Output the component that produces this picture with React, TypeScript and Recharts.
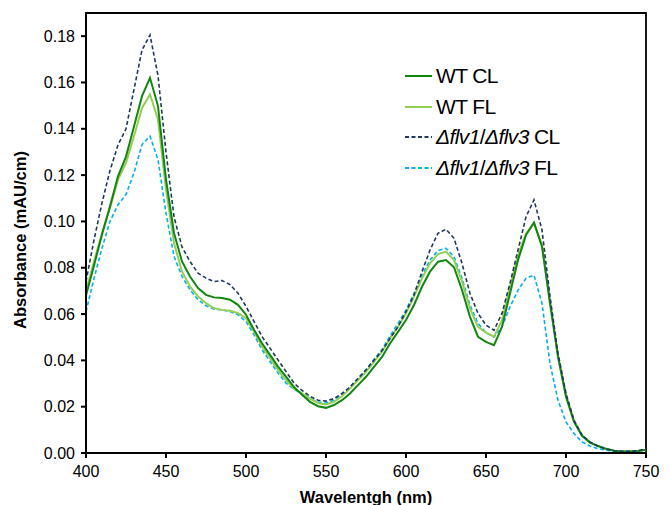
import React from "react";
import { LineChart, Line, XAxis, YAxis, ReferenceArea, Label } from "recharts";

const wavelengths = [400,405,410,415,420,425,430,435,440,445,450,455,460,465,470,475,480,485,490,495,500,505,510,515,520,525,530,535,540,545,550,555,560,565,570,575,580,585,590,595,600,605,610,615,620,625,630,635,640,645,650,655,660,665,670,675,680,685,690,695,700,705,710,715,720,725,730,735,740,745,750];

const wtCL = [0.068,0.081,0.0943,0.1065,0.1195,0.128,0.141,0.1541,0.162,0.1498,0.1181,0.095,0.0827,0.0762,0.0712,0.0683,0.0672,0.0669,0.0662,0.064,0.0597,0.0532,0.0474,0.0424,0.0373,0.033,0.0285,0.0252,0.0221,0.0202,0.0195,0.0207,0.0228,0.0257,0.0293,0.0329,0.0372,0.0415,0.0473,0.0523,0.0574,0.0639,0.0718,0.0783,0.0826,0.0833,0.0802,0.0704,0.0588,0.0502,0.048,0.0466,0.0545,0.0689,0.0833,0.0941,0.0995,0.0891,0.0646,0.0415,0.0243,0.0134,0.0074,0.0045,0.003,0.0018,0.001,0.0007,0.0007,0.0009,0.0014];

const wtFL = [0.07,0.0827,0.095,0.1058,0.1181,0.1253,0.1368,0.149,0.1548,0.144,0.1138,0.0907,0.0784,0.0719,0.0676,0.0647,0.0625,0.0618,0.0614,0.0604,0.0582,0.0525,0.046,0.0409,0.0359,0.0315,0.0278,0.0258,0.0235,0.0216,0.021,0.0221,0.0245,0.0278,0.0314,0.035,0.0394,0.0437,0.0495,0.0545,0.0603,0.0675,0.0754,0.0819,0.0859,0.087,0.0833,0.074,0.0624,0.0545,0.052,0.0502,0.0574,0.0718,0.0855,0.0948,0.0992,0.0898,0.066,0.0422,0.025,0.0141,0.0076,0.0046,0.003,0.0018,0.001,0.0007,0.0007,0.0009,0.0014];

const flvCL = [0.074,0.092,0.108,0.122,0.133,0.14,0.157,0.174,0.1805,0.163,0.13,0.102,0.089,0.0827,0.0777,0.0755,0.074,0.0745,0.0727,0.069,0.0633,0.0568,0.0503,0.0453,0.0402,0.0352,0.0302,0.027,0.0245,0.0228,0.0224,0.0235,0.0257,0.0285,0.0322,0.0358,0.0401,0.0441,0.0495,0.0545,0.061,0.0682,0.0783,0.0876,0.0949,0.0966,0.0927,0.0819,0.0689,0.0603,0.0552,0.053,0.0603,0.0733,0.0876,0.102,0.1093,0.0963,0.0675,0.043,0.0257,0.0141,0.0077,0.0048,0.003,0.0017,0.001,0.0007,0.0007,0.001,0.0017];

const flvFL = [0.061,0.0753,0.0885,0.1,0.1072,0.1116,0.121,0.1332,0.1368,0.1267,0.1036,0.0849,0.0763,0.0705,0.0662,0.0636,0.0621,0.0618,0.0611,0.0597,0.0568,0.0511,0.0446,0.0395,0.0345,0.0302,0.0275,0.0255,0.0235,0.022,0.0216,0.0228,0.0252,0.0285,0.0322,0.036,0.0404,0.0447,0.0505,0.056,0.0617,0.0689,0.0768,0.0833,0.0874,0.0884,0.0848,0.0754,0.0639,0.056,0.052,0.05,0.0545,0.0631,0.0703,0.0754,0.0768,0.0646,0.0386,0.0228,0.0134,0.0084,0.0048,0.003,0.0019,0.0012,0.0008,0.0006,0.0006,0.0009,0.0015];

const xTicks = [400, 450, 500, 550, 600, 650, 700, 750];
const yTicks = [0, 0.02, 0.04, 0.06, 0.08, 0.1, 0.12, 0.14, 0.16, 0.18];

const data = wavelengths.map((w, i) => ({
  w,
  wtCL: wtCL[i],
  wtFL: wtFL[i],
  flvCL: flvCL[i],
  flvFL: flvFL[i],
}));

const FONT = "'Liberation Sans', Arial, sans-serif";

const legendItems = [
  { key: "wtCL", color: "#12870f", dash: undefined, label: <span>WT CL</span> },
  { key: "wtFL", color: "#92d050", dash: undefined, label: <span>WT FL</span> },
  { key: "flvCL", color: "#203864", dash: "4 2.5", label: <span><i>Δflv1</i>/<i>Δflv3</i> CL</span> },
  { key: "flvFL", color: "#00b0f0", dash: "4 2.5", label: <span><i>Δflv1</i>/<i>Δflv3</i> FL</span> },
];

const LegendBox = () => (
  <div style={{ position: "absolute", left: 397, top: 53, fontFamily: FONT, fontSize: 21, letterSpacing: -0.6, color: "#000" }}>
    {legendItems.map((it) => (
      <div key={it.key} style={{ display: "flex", alignItems: "center", height: 30.5, whiteSpace: "nowrap" }}>
        <svg width={28} height={10} style={{ marginRight: 3 }}>
          <line x1={0} y1={5} x2={27} y2={5} stroke={it.color} strokeWidth={2} strokeDasharray={it.dash} />
        </svg>
        {it.label}
      </div>
    ))}
  </div>
);

export default function App() {
  return (
    <div style={{ width: 660, height: 497, position: "relative" }}>
      <LineChart width={660} height={497} data={data} margin={{ top: 5, right: 22, bottom: 0, left: 0 }}>
        <XAxis
          dataKey="w"
          type="number"
          domain={[400, 750]}
          ticks={xTicks}
          height={52}
          stroke="#000"
          strokeWidth={2}
          tickSize={5}
          tickMargin={8}
          tick={{ fill: "#000", fontSize: 16, fontFamily: FONT }}
        >
          <Label value="Wavelentgh (nm)" position="insideBottom" offset={2} style={{ fontWeight: "bold", fontSize: 16.5, fontFamily: FONT, fill: "#000" }} />
        </XAxis>
        <YAxis
          type="number"
          domain={[0, 0.19]}
          ticks={yTicks}
          width={78}
          stroke="#000"
          strokeWidth={2}
          tickSize={5}
          tickMargin={6}
          tickFormatter={(v: number) => v.toFixed(2)}
          tick={{ fill: "#000", fontSize: 16, fontFamily: FONT }}
        >
          <Label value="Absorbance (mAU/cm)" angle={-90} position="center" dx={-27} dy={7} style={{ fontWeight: "bold", fontSize: 16.5, fontFamily: FONT, fill: "#000", textAnchor: "middle" }} />
        </YAxis>
        <ReferenceArea x1={400} x2={750} y1={0} y2={0.19} fill="none" fillOpacity={0} stroke="#000" strokeWidth={1.8} ifOverflow="visible" />
        <Line dataKey="flvFL" type="linear" stroke="#00b0f0" strokeWidth={1.6} strokeDasharray="4 2.5" dot={false} isAnimationActive={false} />
        <Line dataKey="wtFL" type="linear" stroke="#92d050" strokeWidth={2} dot={false} isAnimationActive={false} />
        <Line dataKey="wtCL" type="linear" stroke="#12870f" strokeWidth={2} dot={false} isAnimationActive={false} />
        <Line dataKey="flvCL" type="linear" stroke="#203864" strokeWidth={1.6} strokeDasharray="4 2.5" dot={false} isAnimationActive={false} />
      </LineChart>
      <LegendBox />
    </div>
  );
}
